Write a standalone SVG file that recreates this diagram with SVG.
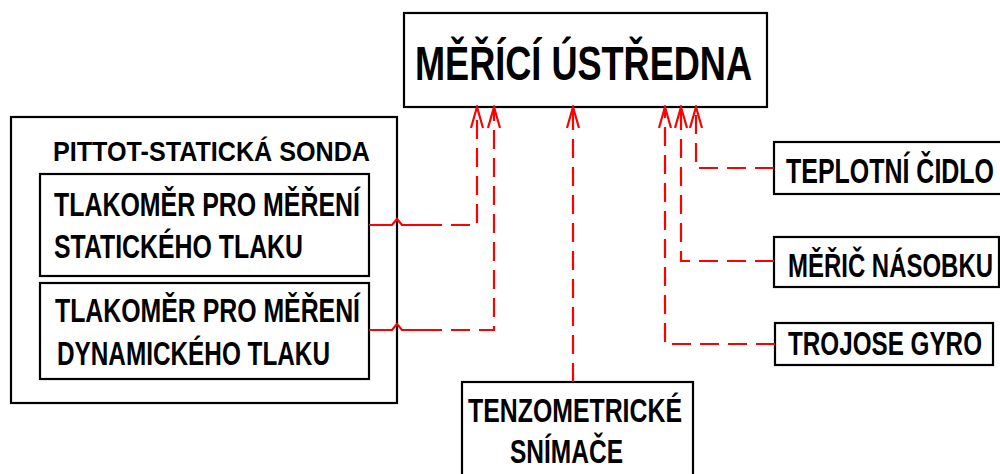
<svg xmlns="http://www.w3.org/2000/svg" width="1000" height="474" viewBox="0 0 1000 474">
<style>
.box{fill:#fff;stroke:#000;stroke-width:2.2}
.t{font-family:"Liberation Sans",Arial,sans-serif;font-weight:bold;fill:#000}
.c{fill:none;stroke:#f00;stroke-width:2.2;stroke-linejoin:miter}
.d{stroke-dasharray:19 9}
</style>
<defs>
<marker id="ah" viewBox="0 0 24 14" refX="22" refY="7" markerWidth="24" markerHeight="14" markerUnits="userSpaceOnUse" orient="auto">
<path d="M1,1 L22,7 L1,13" fill="none" stroke="#f00" stroke-width="2.2"/>
</marker>
</defs>
<rect width="1000" height="474" fill="#fff"/>
<g id="ustredna">
<rect class="box" x="404" y="13" width="363" height="94"/>
<text class="t" x="415" y="80" font-size="49" textLength="337" lengthAdjust="spacingAndGlyphs">MĚŘÍCÍ ÚSTŘEDNA</text>
</g>
<g id="sonda">
<rect class="box" x="11" y="117" width="386" height="286"/>
<text class="t" x="53" y="161" font-size="28" textLength="317" lengthAdjust="spacingAndGlyphs">PITTOT-STATICKÁ SONDA</text>
</g>
<g id="staticky">
<rect class="box" x="40" y="174" width="329" height="102"/>
<text class="t" x="54" y="216" font-size="33" textLength="306" lengthAdjust="spacingAndGlyphs">TLAKOMĚR PRO MĚŘENÍ</text>
<text class="t" x="54" y="258" font-size="33" textLength="249" lengthAdjust="spacingAndGlyphs">STATICKÉHO TLAKU</text>
</g>
<g id="dynamicky">
<rect class="box" x="40" y="283" width="329" height="96"/>
<text class="t" x="55" y="322" font-size="33" textLength="305" lengthAdjust="spacingAndGlyphs">TLAKOMĚR PRO MĚŘENÍ</text>
<text class="t" x="57" y="365" font-size="33" textLength="273" lengthAdjust="spacingAndGlyphs">DYNAMICKÉHO TLAKU</text>
</g>
<g id="teplotni">
<rect class="box" x="774" y="142" width="228" height="52"/>
<text class="t" x="786" y="183" font-size="35" textLength="208" lengthAdjust="spacingAndGlyphs">TEPLOTNÍ ČIDLO</text>
</g>
<g id="meric">
<rect class="box" x="774" y="237" width="225" height="50"/>
<text class="t" x="788" y="277" font-size="33" textLength="205" lengthAdjust="spacingAndGlyphs">MĚŘIČ NÁSOBKU</text>
</g>
<g id="gyro">
<rect class="box" x="775" y="323" width="218" height="42"/>
<text class="t" x="788" y="355" font-size="33" textLength="194" lengthAdjust="spacingAndGlyphs">TROJOSE GYRO</text>
</g>
<g id="tenzo">
<rect class="box" x="462" y="382" width="231" height="100"/>
<text class="t" x="468" y="422" font-size="33" textLength="214" lengthAdjust="spacingAndGlyphs">TENZOMETRICKÉ</text>
<text class="t" x="510" y="463" font-size="33" textLength="113" lengthAdjust="spacingAndGlyphs">SNÍMAČE</text>
</g>
<g id="connectors">
<path class="c" d="M369,225 H392 L397,219 L402,225 H423"/>
<path class="c d" d="M423,225 H477 V107" marker-end="url(#ah)"/>
<path class="c" d="M369,330 H392 L397,324 L402,330 H423"/>
<path class="c d" d="M423,330 H494 V107" marker-end="url(#ah)"/>
<path class="c d" d="M573,382 V107" marker-end="url(#ah)"/>
<path class="c d" d="M774,168 H696 V107" marker-end="url(#ah)"/>
<path class="c d" d="M774,261 H681 V107" marker-end="url(#ah)"/>
<path class="c d" d="M775,344 H665 V107" marker-end="url(#ah)"/>
</g>
</svg>
